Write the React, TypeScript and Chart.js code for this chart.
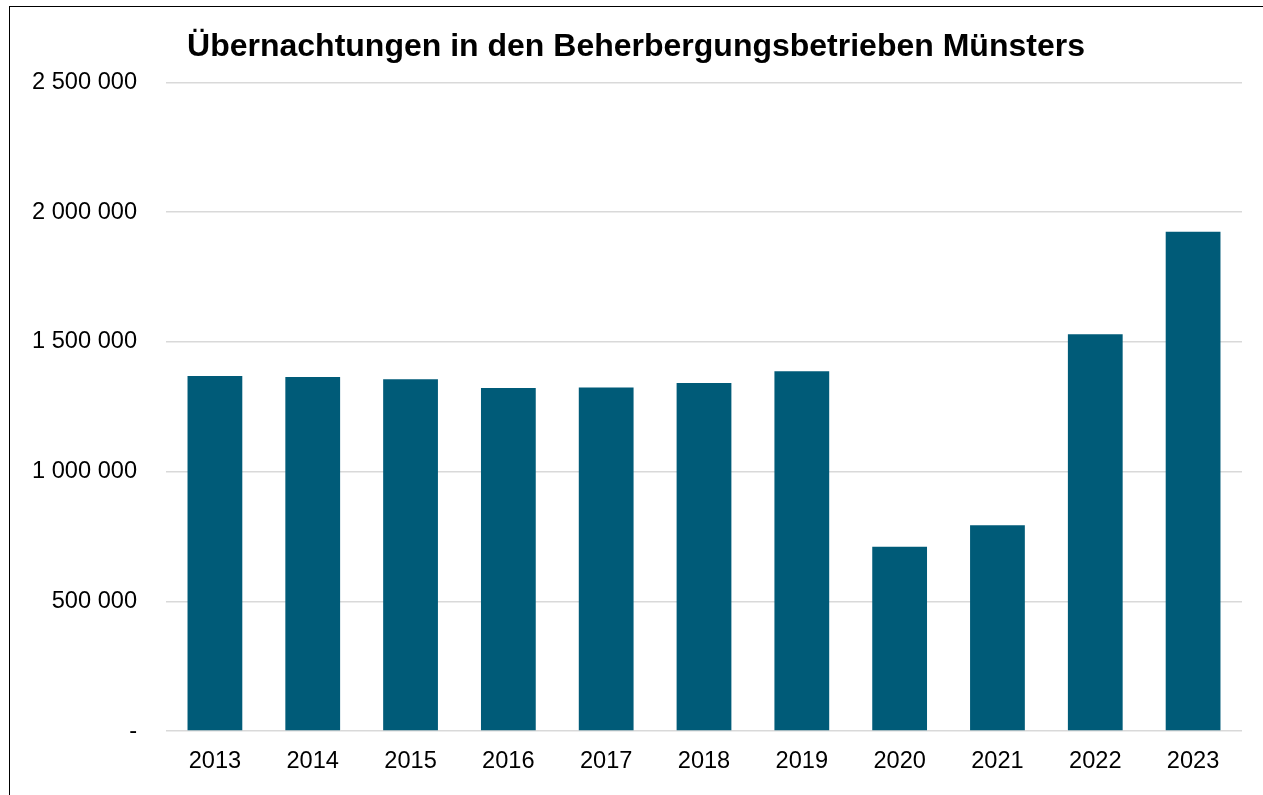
import React, { useEffect, useRef } from "react";
import { Chart, registerables } from "chart.js";

Chart.register(...registerables);

const TITLE = "Übernachtungen in den Beherbergungsbetrieben Münsters";
const years = ["2013", "2014", "2015", "2016", "2017", "2018", "2019", "2020", "2021", "2022", "2023"];
const overnightStays = [1368000, 1364000, 1356000, 1322000, 1324000, 1341000, 1387000, 710000, 793000, 1529000, 1924000];
const yTickValues = [0, 500000, 1000000, 1500000, 2000000, 2500000];
const yTickLabels = ["-", "500 000", "1 000 000", "1 500 000", "2 000 000", "2 500 000"];

const BAR_COLOR = "#005b78";
const FONT = "'Liberation Sans', Arial, sans-serif";

export default function App() {
  const canvasRef = useRef<HTMLCanvasElement | null>(null);

  useEffect(() => {
    document.body.style.overflow = "hidden";
    const canvas = canvasRef.current;
    if (!canvas) return;
    const chart = new Chart(canvas, {
      type: "bar",
      data: {
        labels: years,
        datasets: [
          {
            data: overnightStays,
            backgroundColor: BAR_COLOR,
            borderWidth: 0,
            categoryPercentage: 1,
            barPercentage: 0.56,
          },
        ],
      },
      options: {
        animation: false,
        responsive: false,
        maintainAspectRatio: false,
        layout: { padding: { left: 30, right: 21, top: 12, bottom: 0 } },
        plugins: {
          legend: { display: false },
          tooltip: { enabled: false },
          title: {
            display: true,
            text: TITLE,
            color: "#000",
            font: { family: FONT, size: 32, weight: "bold" },
            padding: { top: 16, bottom: 16 },
          },
        },
        scales: {
          x: {
            grid: { display: false, drawTicks: false },
            border: { display: false },
            ticks: { color: "#000", font: { family: FONT, size: 23.6 }, padding: 16 },
            afterFit: (axis: any) => {
              axis.height = 64;
            },
          },
          y: {
            min: 0,
            max: 2500000,
            afterBuildTicks: (axis: any) => {
              axis.ticks = yTickValues.map((v) => ({ value: v }));
            },
            grid: { color: "#d9d9d9", lineWidth: 1.5, drawTicks: false },
            border: { display: false },
            ticks: {
              color: "#000",
              font: { family: FONT, size: 23.6 },
              padding: 29,
              callback: (value: any) => {
                const i = yTickValues.indexOf(Number(value));
                return i >= 0 ? yTickLabels[i] : "";
              },
            },
            afterFit: (axis: any) => {
              axis.width = 136;
            },
          },
        },
      },
    });
    return () => chart.destroy();
  }, []);

  return (
    <div style={{ position: "fixed", left: 0, top: 0, width: 1263, height: 795, overflow: "hidden", background: "#fff" }}>
      <div
        style={{
          position: "absolute",
          left: 9,
          top: 6,
          width: 1400,
          height: 1000,
          border: "1.5px solid #000",
          boxSizing: "border-box",
        }}
      />
      <canvas ref={canvasRef} width={1263} height={795} style={{ position: "absolute", left: 0, top: 0 }} />
    </div>
  );
}
